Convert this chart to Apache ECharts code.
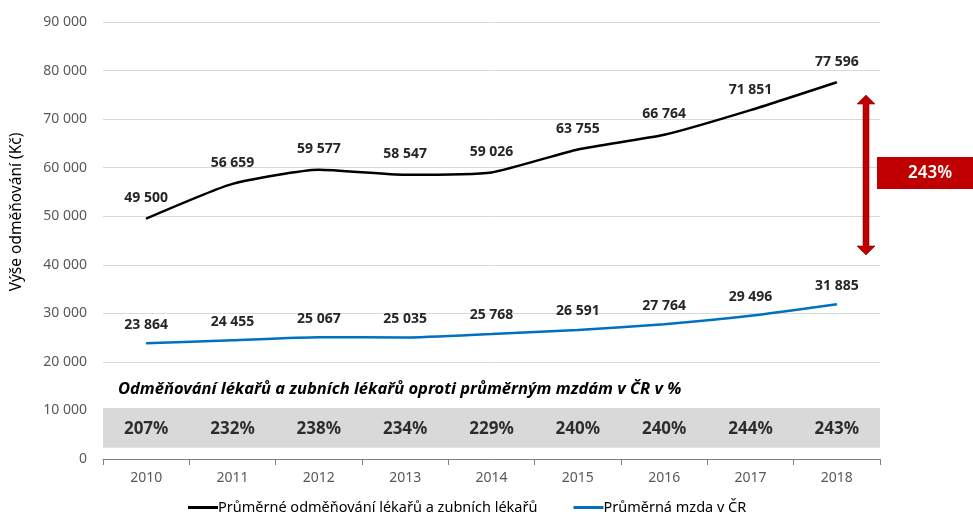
<!DOCTYPE html>
<html>
<head>
<meta charset="utf-8">
<script src="https://cdn.jsdelivr.net/npm/echarts@6/dist/echarts.min.js"></script>
<style>
  html, body { margin: 0; padding: 0; background: #fff; }
  #main { width: 973px; height: 520px; }
</style>
</head>
<body>
<div id="main"></div>
<script>
var years = ['2010', '2011', '2012', '2013', '2014', '2015', '2016', '2017', '2018'];
var lekari = [49500, 56659, 59577, 58547, 59026, 63755, 66764, 71851, 77596];
var mzda = [23864, 24455, 25067, 25035, 25768, 26591, 27764, 29496, 31885];
var podil = [207, 232, 238, 234, 229, 240, 240, 244, 243];
var podilY = 6200; // where the % row sits inside the grey band

var font = '"Noto Sans", "DejaVu Sans", sans-serif';

function mezery(v) {
    return String(Math.round(v)).replace(/\B(?=(\d{3})+(?!\d))/g, ' ');
}

var chart = echarts.init(document.getElementById('main'));

var option = {
    animation: false,
    textStyle: { fontFamily: font },
    grid: { left: 103, right: 93, top: 22, bottom: 61 },
    legend: {
        left: 183,
        bottom: 0,
        itemGap: 36,
        itemWidth: 30,
        itemHeight: 3,
        icon: 'rect',
        textStyle: { fontSize: 14.5, color: '#000', fontFamily: font, padding: [0, 0, 0, -5] },
        data: ['Průměrné odměňování lékařů a zubních lékařů', 'Průměrná mzda v ČR']
    },
    xAxis: {
        type: 'category',
        data: years,
        boundaryGap: true,
        axisLine: { lineStyle: { color: '#808080', width: 1 } },
        axisTick: { show: true, length: 6, lineStyle: { color: '#808080' } },
        axisLabel: { color: '#595959', fontSize: 14, margin: 12, fontFamily: font }
    },
    yAxis: {
        type: 'value',
        min: 0,
        max: 90000,
        interval: 10000,
        axisLine: { show: false },
        axisTick: { show: false },
        axisLabel: { color: '#595959', fontSize: 14, margin: 16, formatter: mezery, fontFamily: font },
        splitLine: { lineStyle: { color: '#d9d9d9', width: 1 } }
    },
    series: [
        {
            name: 'Průměrné odměňování lékařů a zubních lékařů',
            type: 'line',
            data: lekari,
            smooth: 0.18,
            symbol: 'circle',
            symbolSize: 1,
            showSymbol: true,
            color: '#000000',
            lineStyle: { width: 2.5, color: '#000000' },
            label: {
                show: true, position: 'top', distance: 13,
                color: '#262626', fontWeight: 'bold', fontSize: 14, fontFamily: font,
                formatter: function (p) { return mezery(p.value); }
            },
            z: 5
        },
        {
            name: 'Průměrná mzda v ČR',
            type: 'line',
            data: mzda,
            smooth: 0.18,
            symbol: 'circle',
            symbolSize: 1,
            showSymbol: true,
            color: '#0070C0',
            lineStyle: { width: 2.5, color: '#0070C0' },
            label: {
                show: true, position: 'top', distance: 11,
                color: '#262626', fontWeight: 'bold', fontSize: 14, fontFamily: font,
                formatter: function (p) { return mezery(p.value); }
            },
            markArea: {
                silent: true,
                itemStyle: { color: '#d9d9d9' },
                data: [[{ yAxis: 2300 }, { yAxis: 10500 }]]
            },
            z: 5
        },
        {
            name: 'podil',
            type: 'scatter',
            data: podil.map(function (v, i) { return [years[i], podilY, v]; }),
            symbolSize: 1,
            itemStyle: { color: 'rgba(0,0,0,0)' },
            label: {
                show: true, position: 'inside',
                color: '#000', fontWeight: 'bold', fontSize: 17, fontFamily: font,
                formatter: function (p) { return p.value[2] + '%'; }
            },
            silent: true,
            z: 6
        }
    ],
    graphic: [
        {
            type: 'text',
            x: 17, y: 212,
            rotation: Math.PI / 2,
            style: {
                text: 'Výše odměňování (Kč)',
                fill: '#000', font: '15.5px ' + font,
                align: 'center', verticalAlign: 'middle'
            }
        },
        {
            type: 'text',
            x: 118, y: 389,
            style: {
                text: 'Odměňování lékařů a zubních lékařů oproti průměrným mzdám v ČR v %',
                fill: '#000', font: 'italic bold 16.5px ' + font,
                verticalAlign: 'middle'
            }
        },
        {
            type: 'polygon',
            shape: { points: [[866, 95], [875, 104], [869, 104], [869, 246], [875, 246], [866, 255], [857, 246], [863, 246], [863, 104], [857, 104]] },
            style: { fill: '#C00000', stroke: '#8a0000', lineWidth: 0.6 },
            z: 10
        },
        {
            type: 'rect',
            shape: { x: 877, y: 157, width: 96, height: 32 },
            style: { fill: '#C00000' },
            z: 10
        },
        {
            type: 'text',
            x: 930, y: 173,
            style: {
                text: '243%', fill: '#fff', font: '600 17px ' + font,
                align: 'center', verticalAlign: 'middle'
            },
            z: 11
        }
    ]
};

chart.setOption(option);
</script>
</body>
</html>
